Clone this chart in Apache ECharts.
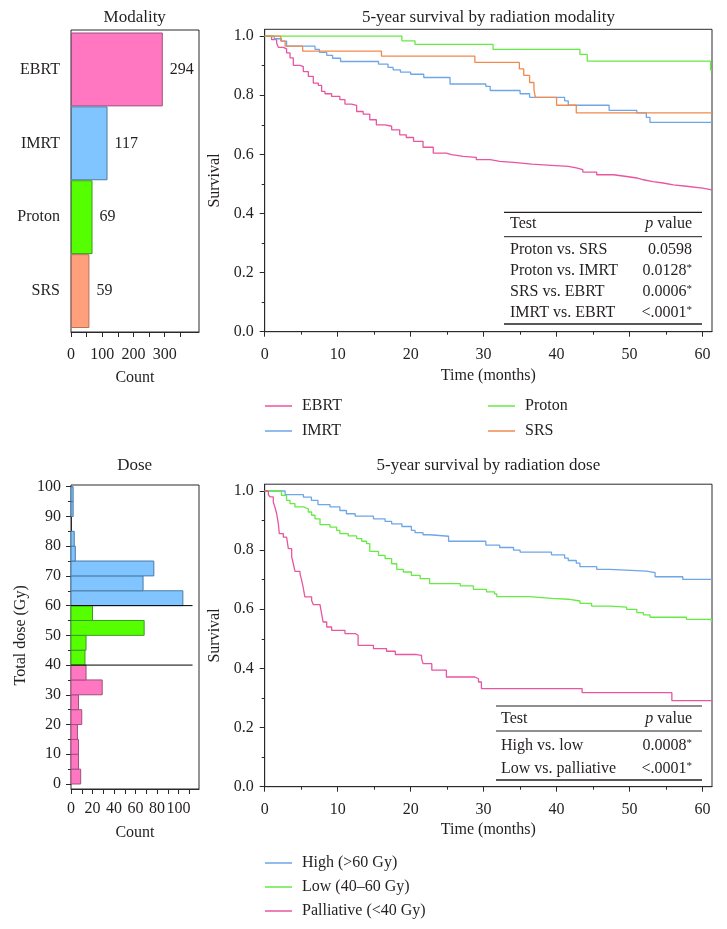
<!DOCTYPE html>
<html><head><meta charset="utf-8">
<script src="https://cdn.jsdelivr.net/npm/echarts@6/dist/echarts.min.js"></script>
<style>html,body{margin:0;padding:0;background:#fff}#c{width:727px;height:929px}</style>
</head><body><div id="c"></div>
<script>
// ---------- DATA ----------
const modalityCategories = ['EBRT', 'IMRT', 'Proton', 'SRS'];
const modalityCounts = [294, 117, 69, 59];
const modalityAxisTicks = [0, 50, 100, 150, 200, 250, 300, 350];
const modalityAxisLabels = [0, 100, 200, 300];

const doseBinStarts = [0, 5, 10, 15, 20, 25, 30, 35, 40, 45, 50, 55, 60, 65, 70, 75, 80, 85, 90, 95];
const doseBinWidth = 5;
const doseCounts = [9, 7, 7, 6, 10, 7, 29, 14, 13, 14, 68, 20, 104, 67, 77, 4, 3, 0, 2, 2];
const doseCutoffs = [40, 60];
const doseCutoffLineEnd = 113;
const doseCountTicks = [0, 10, 20, 30, 40, 50, 60, 70, 80, 90, 100, 110];
const doseCountLabels = [0, 20, 40, 60, 80, 100];

const timeMajorTicks = [0, 10, 20, 30, 40, 50, 60];
const timeMinorTicks = [5, 15, 25, 35, 45, 55];
const survMajorTicks = [0, 0.2, 0.4, 0.6, 0.8, 1.0];
const survMinorTicks = [0.1, 0.3, 0.5, 0.7, 0.9];

// 5-year survival by modality (Kaplan-Meier step points)
const ebrtTime = [0, 0.95, 1.64, 1.87, 2.55, 3.0, 3.47, 3.92, 4.84, 5.29, 5.98, 6.66, 7.35, 7.8, 8.26, 9.17, 10.3, 11.0, 11.9, 12.6, 13.5, 14.4, 15.3, 16.5, 17.4, 18.5, 19.4, 20.4, 21.7, 23.1, 24.9, 25.6, 27.2, 29.0, 30.9, 32.2, 34.1, 36.6, 39.3, 41.6, 42.7, 43.6, 45.5, 47.8, 49.6, 51.0, 51.9, 53.2, 54.6, 56.0, 57.8, 60.0, 61.3];
const ebrtSurv = [1, 0.988, 0.976, 0.962, 0.957, 0.943, 0.926, 0.901, 0.897, 0.880, 0.864, 0.841, 0.833, 0.813, 0.805, 0.796, 0.785, 0.770, 0.766, 0.745, 0.736, 0.717, 0.700, 0.695, 0.683, 0.666, 0.657, 0.644, 0.624, 0.604, 0.599, 0.593, 0.590, 0.582, 0.576, 0.573, 0.567, 0.563, 0.559, 0.554, 0.548, 0.540, 0.531, 0.525, 0.520, 0.514, 0.508, 0.503, 0.497, 0.492, 0.486, 0.480, 0.479];
const imrtTime = [0, 1.3, 2.3, 3.0, 6.9, 7.5, 8.5, 9.3, 10.4, 15.6, 16.9, 17.6, 18.6, 20.0, 21.8, 25.4, 30.3, 30.9, 35.0, 36.3, 41.1, 41.6, 47.2, 51.0, 52.3, 52.8, 61.3];
const imrtSurv = [1, 0.991, 0.983, 0.966, 0.955, 0.945, 0.935, 0.925, 0.914, 0.905, 0.894, 0.886, 0.878, 0.871, 0.860, 0.838, 0.830, 0.816, 0.805, 0.793, 0.781, 0.766, 0.749, 0.740, 0.725, 0.708, 0.708];
const protonTime = [0, 18.8, 20.6, 31.3, 43.2, 44.2, 61.1, 61.3];
const protonSurv = [1, 0.984, 0.972, 0.955, 0.938, 0.915, 0.885, 0.885];
const srsTime = [0, 2.2, 2.8, 5.2, 16.0, 28.8, 34.9, 35.5, 36.3, 36.9, 37.1, 40.0, 42.7, 61.3];
const srsSurv = [1, 0.983, 0.966, 0.949, 0.932, 0.911, 0.889, 0.867, 0.843, 0.818, 0.793, 0.766, 0.740, 0.740];

// 5-year survival by dose
const highTime = [0, 2.8, 5.3, 6.4, 7.3, 8.95, 10.3, 11.2, 12.4, 14.9, 16.5, 17.4, 18.8, 20.1, 20.6, 21.7, 22.6, 25.2, 30.3, 32.2, 34.1, 35.0, 39.3, 41.1, 41.6, 42.7, 43.2, 45.5, 47.3, 52.3, 53.5, 57.3, 61.3];
const highSurv = [1, 0.988, 0.979, 0.968, 0.954, 0.946, 0.934, 0.923, 0.915, 0.906, 0.897, 0.889, 0.880, 0.867, 0.859, 0.852, 0.847, 0.830, 0.817, 0.809, 0.800, 0.793, 0.784, 0.773, 0.765, 0.756, 0.744, 0.735, 0.729, 0.724, 0.710, 0.701, 0.701];
const lowTime = [0, 2.3, 3.0, 3.47, 4.15, 5.29, 5.98, 6.43, 6.89, 7.58, 8.95, 9.86, 10.3, 11.45, 12.6, 13.3, 13.97, 14.4, 15.6, 16.5, 17.4, 18.1, 19.0, 20.1, 21.3, 22.6, 26.8, 28.6, 30.4, 31.5, 31.8, 36.3, 39.3, 41.6, 43.2, 44.8, 47.3, 49.6, 51.0, 51.9, 52.8, 57.8, 61.2, 61.3];
const lowSurv = [1, 0.985, 0.968, 0.957, 0.946, 0.940, 0.929, 0.918, 0.906, 0.886, 0.878, 0.867, 0.856, 0.848, 0.839, 0.830, 0.822, 0.796, 0.782, 0.771, 0.754, 0.735, 0.726, 0.715, 0.704, 0.687, 0.679, 0.667, 0.659, 0.652, 0.643, 0.637, 0.634, 0.628, 0.620, 0.611, 0.607, 0.600, 0.589, 0.581, 0.573, 0.566, 0.558, 0.558];
const palTime = [0, 0.5, 0.73, 1.18, 1.4, 1.64, 1.87, 2.0, 2.55, 3.0, 3.24, 3.7, 3.92, 4.15, 4.84, 5.07, 5.29, 5.5, 6.43, 6.66, 7.58, 7.8, 8.0, 8.5, 9.17, 11.0, 12.4, 12.8, 14.9, 16.7, 17.9, 20.8, 21.5, 21.7, 22.9, 24.9, 28.8, 29.3, 29.7, 43.5, 55.8, 61.3];
const palSurv = [1, 0.988, 0.980, 0.962, 0.946, 0.923, 0.890, 0.856, 0.844, 0.839, 0.805, 0.777, 0.754, 0.728, 0.720, 0.698, 0.672, 0.642, 0.630, 0.616, 0.613, 0.585, 0.557, 0.540, 0.529, 0.518, 0.512, 0.478, 0.467, 0.458, 0.447, 0.444, 0.433, 0.416, 0.394, 0.371, 0.365, 0.354, 0.332, 0.318, 0.291, 0.291];

const modalityTests = ['Proton vs. SRS', 'Proton vs. IMRT', 'SRS vs. EBRT', 'IMRT vs. EBRT'];
const modalityPValues = ['0.0598', '0.0128', '0.0006', '<.0001'];
const modalitySignificant = [false, true, true, true];
const doseTests = ['High vs. low', 'Low vs. palliative'];
const dosePValues = ['0.0008', '<.0001'];
const doseSignificant = [true, true];

// ---------- STYLE ----------
const FONT = '"Liberation Serif", "DejaVu Serif", serif';
const TXT = '#231F20';
const AX = '#2a2a2a';
const FS = 16;
const TITLE_FS = 17;
const barFill = ['#FF77C1', '#80C5FF', '#55FF00', '#FF9F7B'];
const barBorder = ['#A0507E', '#4B7BA5', '#3C9A28', '#B87058'];
const lineCol = { ebrt: '#E9559F', imrt: '#6EA6E8', proton: '#66EA44', srs: '#F08A4E' };
const doseGroupFill = ['#FF77C1', '#55FF00', '#80C5FF'];
const doseGroupBorder = ['#A0507E', '#3C9A28', '#4B7BA5'];

const zip = (a, b) => a.map((v, i) => [v, b[i]]);
const textStyle = { fontFamily: FONT, fontSize: FS, color: TXT };

function valueAxis(grid, min, max, opts) {
  return Object.assign({
    type: 'value', gridIndex: grid, min: min, max: max,
    axisLine: { show: true, lineStyle: { color: AX, width: 1 } },
    axisTick: { show: true, length: 5, lineStyle: { color: AX } },
    axisLabel: Object.assign({ margin: 12 }, textStyle),
    splitLine: { show: false },
    nameTextStyle: textStyle
  }, opts);
}
function hiddenAxis(grid, min, max, type) {
  return { type: type || 'value', gridIndex: grid, min: min, max: max, show: false, splitLine: { show: false } };
}
function minorOverlay(grid, min, max, ticks, pos) {
  return {
    type: 'value', gridIndex: grid, min: min, max: max, position: pos,
    axisLine: { show: false }, axisLabel: { show: false }, splitLine: { show: false },
    axisTick: { show: true, length: 3, customValues: ticks, lineStyle: { color: AX } }
  };
}
const frame = { show: true, borderColor: AX, borderWidth: 1, backgroundColor: 'rgba(0,0,0,0)' };

const TMAX = 61.3, SMAX = 1.023;

const option = {
  animation: false,
  backgroundColor: '#fff',
  textStyle: { fontFamily: FONT },
  grid: [
    Object.assign({ left: 71, top: 30, width: 128, height: 302 }, frame),
    { left: 71, top: 32.5, width: 128, height: 295.5 },
    Object.assign({ left: 71, top: 485, width: 128, height: 304 }, frame),
    { left: 71, top: 486.7, width: 128, height: 297.3 },
    Object.assign({ left: 264.7, top: 29.3, width: 447.3, height: 302.4 }, frame),
    Object.assign({ left: 264.7, top: 484.2, width: 447.3, height: 302.5 }, frame)
  ],
  xAxis: [
    valueAxis(0, 0, 410, { position: 'bottom', name: 'Count', nameLocation: 'middle', nameGap: 38,
      axisTick: { show: true, length: 5, customValues: modalityAxisTicks, lineStyle: { color: AX } },
      axisLabel: Object.assign({ margin: 15, customValues: modalityAxisLabels }, textStyle) }),
    hiddenAxis(1, 0, 410),
    valueAxis(2, 0, 119, { position: 'bottom', name: 'Count', nameLocation: 'middle', nameGap: 36,
      axisTick: { show: true, length: 5, customValues: doseCountTicks, lineStyle: { color: AX } },
      axisLabel: Object.assign({ margin: 12, customValues: doseCountLabels }, textStyle) }),
    hiddenAxis(3, 0, 119),
    valueAxis(4, 0, TMAX, { position: 'bottom', name: 'Time (months)', nameLocation: 'middle', nameGap: 36,
      axisTick: { show: true, length: 5, customValues: timeMajorTicks, lineStyle: { color: AX } },
      axisLabel: Object.assign({ margin: 15, customValues: timeMajorTicks }, textStyle) }),
    minorOverlay(4, 0, TMAX, timeMinorTicks, 'bottom'),
    valueAxis(5, 0, TMAX, { position: 'bottom', name: 'Time (months)', nameLocation: 'middle', nameGap: 35,
      axisTick: { show: true, length: 5, customValues: timeMajorTicks, lineStyle: { color: AX } },
      axisLabel: Object.assign({ margin: 15, customValues: timeMajorTicks }, textStyle) }),
    minorOverlay(5, 0, TMAX, timeMinorTicks, 'bottom')
  ],
  yAxis: [
    hiddenAxis(0, 0, 1),
    { type: 'category', gridIndex: 1, data: modalityCategories, inverse: true,
      axisLine: { show: false }, axisTick: { show: false }, splitLine: { show: false },
      axisLabel: Object.assign({ margin: 11 }, textStyle) },
    hiddenAxis(2, 0, 1),
    valueAxis(3, 0, 100, { position: 'left', interval: 10, name: 'Total dose (Gy)', nameLocation: 'middle', nameGap: 42,
      minorTick: { show: true, splitNumber: 2, length: 3, lineStyle: { color: AX } },
      axisLabel: Object.assign({ margin: 10 }, textStyle) }),
    valueAxis(4, 0, SMAX, { position: 'left', name: 'Survival', nameLocation: 'middle', nameGap: 38,
      axisTick: { show: true, length: 5, customValues: survMajorTicks, lineStyle: { color: AX } },
      axisLabel: Object.assign({ margin: 11, customValues: survMajorTicks, formatter: v => v.toFixed(1) }, textStyle) }),
    minorOverlay(4, 0, SMAX, survMinorTicks, 'left'),
    valueAxis(5, 0, SMAX, { position: 'left', name: 'Survival', nameLocation: 'middle', nameGap: 38,
      axisTick: { show: true, length: 5, customValues: survMajorTicks, lineStyle: { color: AX } },
      axisLabel: Object.assign({ margin: 11, customValues: survMajorTicks, formatter: v => v.toFixed(1) }, textStyle) }),
    minorOverlay(5, 0, SMAX, survMinorTicks, 'left')
  ],
  legend: [
    { data: ['EBRT', 'IMRT'], left: 265, top: 398 },
    { data: ['Proton', 'SRS'], left: 488, top: 398 },
    { data: ['High (>60 Gy)', 'Low (40–60 Gy)', 'Palliative (<40 Gy)'], left: 265, top: 855, itemGap: 8 }
  ].map(l => Object.assign({
    orient: 'vertical', icon: 'rect', itemWidth: 27, itemHeight: 1.5, itemGap: 9, padding: 0,
    selectedMode: false,
    textStyle: { fontFamily: FONT, fontSize: FS, color: TXT, lineHeight: 16, padding: [0, 0, 0, 5] }
  }, l)),
  graphic: { elements: [] },
  series: []
};

// Modality bars
option.series.push({
  name: 'Modality count', type: 'bar', xAxisIndex: 1, yAxisIndex: 1, barWidth: '100%',
  data: modalityCounts.map((v, i) => ({ value: v, itemStyle: { color: barFill[i], borderColor: barBorder[i], borderWidth: 1 } })),
  label: { show: true, position: 'right', distance: 7, fontFamily: FONT, fontSize: FS, color: TXT },
  silent: true
});

// Dose histogram
option.series.push({
  name: 'Dose count', type: 'custom', xAxisIndex: 3, yAxisIndex: 3, silent: true,
  data: doseBinStarts.map((s, i) => [s, s + doseBinWidth, doseCounts[i]]),
  encode: { x: 2, y: [0, 1] },
  renderItem: function (params, api) {
    const lo = api.value(0), hi = api.value(1), n = api.value(2);
    if (!n) return null;
    const p0 = api.coord([0, hi]);
    const p1 = api.coord([n, lo]);
    const g = lo < doseCutoffs[0] ? 0 : (lo < doseCutoffs[1] ? 1 : 2);
    return {
      type: 'rect',
      shape: { x: p0[0], y: p0[1], width: p1[0] - p0[0], height: p1[1] - p0[1] },
      style: { fill: doseGroupFill[g], stroke: doseGroupBorder[g], lineWidth: 1 }
    };
  }
});
doseCutoffs.forEach(c => option.series.push({
  name: 'cutoff ' + c, type: 'line', xAxisIndex: 3, yAxisIndex: 3, silent: true,
  data: [[0, c], [doseCutoffLineEnd, c]], symbol: 'none', lineStyle: { color: '#000', width: 1 }
}));

// KM curves
function km(name, t, s, color, ax) {
  return {
    name: name, type: 'line', step: 'end', xAxisIndex: ax, yAxisIndex: ax, data: zip(t, s),
    showSymbol: false, symbol: 'none', silent: true,
    itemStyle: { color: color }, lineStyle: { color: color, width: 1.3 }
  };
}
option.series.push(km('EBRT', ebrtTime, ebrtSurv, lineCol.ebrt, 4));
option.series.push(km('IMRT', imrtTime, imrtSurv, lineCol.imrt, 4));
option.series.push(km('Proton', protonTime, protonSurv, lineCol.proton, 4));
option.series.push(km('SRS', srsTime, srsSurv, lineCol.srs, 4));
option.series.push(km('High (>60 Gy)', highTime, highSurv, lineCol.imrt, 6));
option.series.push(km('Low (40–60 Gy)', lowTime, lowSurv, lineCol.proton, 6));
option.series.push(km('Palliative (<40 Gy)', palTime, palSurv, lineCol.ebrt, 6));

// Titles & tables (graphic)
const G = option.graphic.elements;
function txt(x, y, text, align, size) {
  const fs = size || FS;
  G.push({ type: 'text', x: x, y: y, silent: true, z: 100,
    style: { text: text, fontFamily: FONT, fontSize: fs, fill: TXT,
      align: align, verticalAlign: 'middle', textAlign: align, textVerticalAlign: 'middle',
      rich: { i: { fontStyle: 'italic', fontFamily: FONT, fontSize: fs, fill: TXT },
              s: { fontSize: 11, fontFamily: FONT, fill: TXT, verticalAlign: 'top' } } } });
}
function hline(x1, x2, y, w) {
  G.push({ type: 'line', silent: true, z: 100, shape: { x1: x1, y1: y, x2: x2, y2: y }, style: { stroke: TXT, lineWidth: w } });
}
txt(134.7, 17.5, 'Modality', 'center', TITLE_FS);
txt(488.4, 17.5, '5-year survival by radiation modality', 'center', TITLE_FS);
txt(134.7, 466, 'Dose', 'center', TITLE_FS);
txt(488.4, 466, '5-year survival by radiation dose', 'center', TITLE_FS);

function table(x1, x2, yTop, yHead, yBot, textX, valX, headY, rowY0, rowGap, tests, pv, sig) {
  hline(x1, x2, yTop, 1.2); hline(x1, x2, yHead, 1); hline(x1, x2, yBot, 1.5);
  txt(textX, headY, 'Test', 'left');
  txt(valX, headY, '{i|p} value', 'right');
  tests.forEach((t, i) => {
    txt(textX, rowY0 + i * rowGap, t, 'left');
    txt(valX, rowY0 + i * rowGap, pv[i] + (sig[i] ? '{s|*}' : ''), 'right');
  });
}
table(504, 702, 212.3, 236.7, 324, 510, 692, 224, 249.3, 21, modalityTests, modalityPValues, modalitySignificant);
table(496, 702, 706, 731, 780, 501, 692, 719, 746, 22.7, doseTests, dosePValues, doseSignificant);

const chart = echarts.init(document.getElementById('c'), null, { renderer: 'canvas' });
chart.setOption(option);
</script>
</body></html>
